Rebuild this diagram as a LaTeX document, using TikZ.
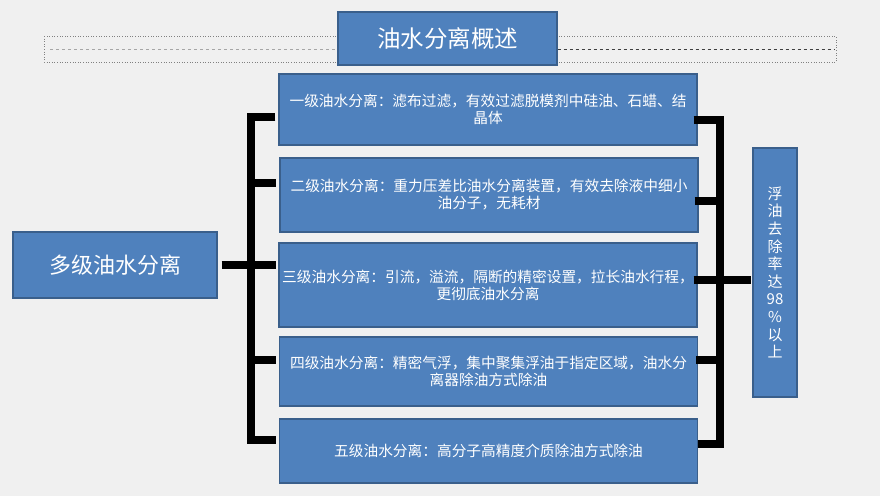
\documentclass[tikz,border=0pt]{standalone}
\usepackage{fontspec}
\setmainfont{Noto Sans CJK SC}
\usetikzlibrary{positioning}
\definecolor{boxblue}{HTML}{4F81BD}
\definecolor{boxedge}{HTML}{3A5F8B}
\definecolor{pagebg}{HTML}{F0F0F0}

\begin{document}
\begin{tikzpicture}[x=1pt,y=-1pt,
box/.style={draw=boxedge,line width=1.3pt,fill=boxblue,text=white,align=center,inner sep=0pt},
stagebox/.style={box,minimum width=418pt,font=\fontsize{14.7}{17}\selectfont},
bar/.style={line width=8pt},
frame/.style={draw=gray,dotted,line width=0.6pt}]
\fill[pagebg] (0,0) rectangle (880,496);
\useasboundingbox (0,0) rectangle (880,496);
% title strip
\draw[frame] (44,36) rectangle (836,62);
\coordinate (fl) at (50,49);
\coordinate (fr) at (834,49);
\node[box,minimum width=219pt,minimum height=53pt,font=\fontsize{23.5}{26}\selectfont] (title) at (447.5,38.5) {油水分离概述};
\draw[gray!70,dashed,line width=1pt] (fl) -- (fl -| title.west);
\draw[black!75,dashed,line width=1pt] (title.east |- fr) -- (fr);
% main and stages
\node[box,minimum width=204pt,minimum height=66pt,font=\fontsize{22}{26}\selectfont] (multi) at (115,265) {多级油水分离};
\node[stagebox,minimum height=71pt] (s1) at (488,109.5) {一级油水分离：滤布过滤，有效过滤脱模剂中硅油、石蜡、结\\晶体};
\node[stagebox,minimum height=74pt] (s2) at (489,195) {二级油水分离：重力压差比油水分离装置，有效去除液中细小\\油分子，无耗材};
\node[stagebox,minimum height=84pt] (s3) at (488,285) {三级油水分离：引流，溢流，隔断的精密设置，拉长油水行程，\\更彻底油水分离};
\node[stagebox,minimum height=69pt] (s4) at (488.5,371.5) {四级油水分离：精密气浮，集中聚集浮油于指定区域，油水分\\离器除油方式除油};
\node[stagebox,minimum height=64pt] (s5) at (488.5,451) {五级油水分离：高分子高精度介质除油方式除油};
\node[box,minimum width=44pt,minimum height=249pt,font=\fontsize{15}{17.6}\selectfont] (rate) at (775,272.5) {浮\\油\\去\\除\\率\\达\\98\\\%\\以\\上};
% left bracket
\coordinate (l1) at (250.5,117);
\coordinate (l2) at (250.5,183);
\coordinate (l3) at (250.5,265);
\coordinate (l4) at (250.5,360);
\coordinate (l5) at (250.5,440);
\draw[bar,shorten <=3pt,shorten >=3pt] (l1 -| s1.west) -| (l5) -- (l5 -| s5.west);
\draw[bar,shorten >=3pt] (l2) -- (l2 -| s2.west);
\draw[bar,shorten <=4pt,shorten >=2pt] (multi.east) -- (l3 -| s3.west);
\draw[bar,shorten >=3pt] (l4) -- (l4 -| s4.west);
% right bracket
\coordinate (r1) at (719.5,120);
\coordinate (r2) at (719.5,201);
\coordinate (r3) at (719.5,280);
\coordinate (r4) at (719.5,360);
\coordinate (r5) at (719.5,444);
\draw[bar,shorten <=-4pt] (r1 -| s1.east) -| (r5) -- (r5 -| s5.east);
\draw[bar,shorten <=-4pt] (r2 -| s2.east) -- (r2);
\draw[bar,shorten <=-4pt,shorten >=1pt] (r3 -| s3.east) -- (r3 -| rate.west);
\draw[bar,shorten <=-2pt] (r4 -| s4.east) -- (r4);
\end{tikzpicture}
\end{document}
